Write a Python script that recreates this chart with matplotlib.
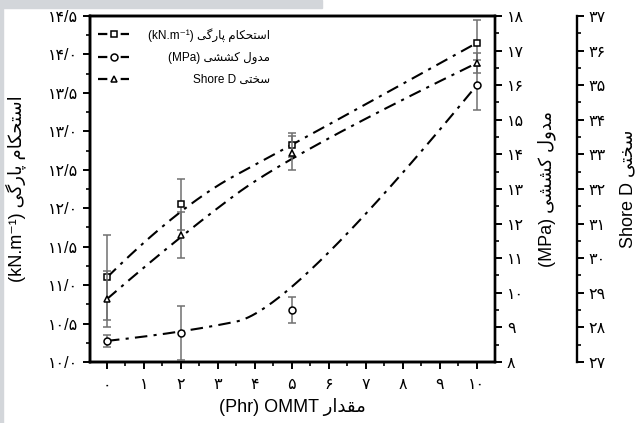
import numpy as np
import matplotlib
matplotlib.use("Agg")
import matplotlib.pyplot as plt
from matplotlib.patches import Rectangle
from matplotlib.lines import Line2D
from matplotlib.ticker import MultipleLocator, FuncFormatter

plt.rcParams['font.family'] = ['Liberation Sans', 'DejaVu Sans']

# === DATA ===
ommt = [0, 2, 5, 10]
tear = [11.10, 12.05, 12.82, 14.15]
tear_err = [0.55, 0.33, 0.16, 0.30]
modulus = [8.61, 8.84, 9.50, 16.0]
modulus_err = [0.17, 0.78, 0.38, 0.72]
hardness = [28.82, 30.67, 33.04, 35.64]
hardness_err = [0.82, 0.66, 0.49, 0.30]

label_tear = "استحکام پارگی"
label_modulus = "مدول کششی"
label_hardness = "سختی"
label_x = "مقدار"

# Arabic presentation forms: (isolated, final, initial, medial)
FORMS = {
    'ا': ('\uFE8D', '\uFE8E'),
    'د': ('\uFEA9', '\uFEAA'),
    'ر': ('\uFEAD', '\uFEAE'),
    'و': ('\uFEED', '\uFEEE'),
    'س': ('\uFEB1', '\uFEB2', '\uFEB3', '\uFEB4'),
    'ش': ('\uFEB5', '\uFEB6', '\uFEB7', '\uFEB8'),
    'ت': ('\uFE95', '\uFE96', '\uFE97', '\uFE98'),
    'ح': ('\uFEA1', '\uFEA2', '\uFEA3', '\uFEA4'),
    'خ': ('\uFEA5', '\uFEA6', '\uFEA7', '\uFEA8'),
    'ک': ('\uFB8E', '\uFB8F', '\uFB90', '\uFB91'),
    'م': ('\uFEE1', '\uFEE2', '\uFEE3', '\uFEE4'),
    'پ': ('\uFB56', '\uFB57', '\uFB58', '\uFB59'),
    'گ': ('\uFB92', '\uFB93', '\uFB94', '\uFB95'),
    'ی': ('\uFBFC', '\uFBFD', '\uFBFE', '\uFBFF'),
    'ل': ('\uFEDD', '\uFEDE', '\uFEDF', '\uFEE0'),
    'ق': ('\uFED5', '\uFED6', '\uFED7', '\uFED8'),
}


def rtl(s):
    # shape letters by context, then reverse to visual order
    out = []
    for i, ch in enumerate(s):
        if ch not in FORMS:
            out.append(ch)
            continue
        prev = s[i - 1] if i > 0 else ''
        nxt = s[i + 1] if i + 1 < len(s) else ''
        jp = prev in FORMS and len(FORMS[prev]) == 4
        jn = len(FORMS[ch]) == 4 and nxt in FORMS
        f = FORMS[ch]
        if jp and jn:
            out.append(f[3])
        elif jp:
            out.append(f[1])
        elif jn:
            out.append(f[2])
        else:
            out.append(f[0])
    return ''.join(out)[::-1]


FA = str.maketrans('0123456789.', '۰۱۲۳۴۵۶۷۸۹/')


def fa_fmt(fmt):
    return FuncFormatter(lambda v, pos: (fmt % v).translate(FA))


def bspline(xs, ys, k=2, n=300):
    # clamped B-spline with the data points as control points (origin style)
    P = np.column_stack([xs, ys]).astype(float)
    m = len(P)
    knots = np.concatenate([[0] * k, np.linspace(0, 1, m - k + 1), [1] * k])
    t = np.linspace(0, 1 - 1e-9, n)

    def N(i, d):
        if d == 0:
            return ((knots[i] <= t) & (t < knots[i + 1])).astype(float)
        a = 0 if knots[i + d] == knots[i] else (t - knots[i]) / (knots[i + d] - knots[i])
        b = 0 if knots[i + d + 1] == knots[i + 1] else (knots[i + d + 1] - t) / (knots[i + d + 1] - knots[i + 1])
        return a * N(i, d - 1) + b * N(i + 1, d - 1)

    B = np.column_stack([N(i, k) for i in range(m)])
    C = B @ P
    return C[:, 0], C[:, 1]


fig = plt.figure(figsize=(6.39, 4.23), dpi=100)
fig.patches.append(Rectangle((0, 0), 0.005, 1, transform=fig.transFigure,
                             color='#d3d6da', zorder=0))
fig.patches.append(Rectangle((0, 0.981), 0.504, 0.019, transform=fig.transFigure,
                             color='#d3d6da', zorder=0))
ax = fig.add_axes([0.1408, 0.1442, 0.6338, 0.818])
ax2 = ax.twinx()
ax3 = ax.twinx()
ax3.spines['right'].set_position(('outward', 59))

ls = (0, (6, 3, 1.5, 3))
mk = dict(mfc='white', mec='black', mew=1.1, ms=5, ls='none', zorder=5)
eb = dict(fmt='none', ecolor='#707070', elinewidth=1.1, capsize=3, capthick=1.1, zorder=3)

ax.errorbar(ommt, tear, yerr=tear_err, **eb)
ax.plot(*bspline(ommt, tear), color='black', lw=1.5, ls=ls)
ax.plot(ommt, tear, marker='s', **mk)

ax2.errorbar(ommt, modulus, yerr=modulus_err, **eb)
ax2.plot(*bspline(ommt, modulus), color='black', lw=1.5, ls=ls)
ax2.plot(ommt, modulus, marker='o', **mk)

ax3.errorbar(ommt, hardness, yerr=hardness_err, **eb)
ax3.plot(*bspline(ommt, hardness), color='black', lw=1.5, ls=ls)
ax3.plot(ommt, hardness, marker='^', **mk)

ax.set_xlim(-0.46, 10.49)
ax.set_ylim(10.0, 14.5)
ax2.set_ylim(8, 18)
ax3.set_ylim(27, 37)

ax.xaxis.set_major_locator(MultipleLocator(1))
ax.xaxis.set_minor_locator(MultipleLocator(0.5))
ax.yaxis.set_major_locator(MultipleLocator(0.5))
ax.yaxis.set_minor_locator(MultipleLocator(0.25))
for a in (ax2, ax3):
    a.yaxis.set_major_locator(MultipleLocator(1))
    a.yaxis.set_minor_locator(MultipleLocator(0.5))
    a.yaxis.set_major_formatter(fa_fmt('%d'))
ax.xaxis.set_major_formatter(fa_fmt('%d'))
ax.yaxis.set_major_formatter(fa_fmt('%.1f'))

for a in (ax, ax2, ax3):
    for sp in a.spines.values():
        sp.set_linewidth(1.7)
    a.tick_params(which='major', direction='out', length=5, width=1.4, labelsize=11.5)
    a.tick_params(which='minor', direction='out', length=3, width=1.2)
ax.tick_params(axis='x', pad=6)

ax.set_xlabel("(Phr) OMMT " + rtl(label_x), fontsize=13, labelpad=4)
ax.set_ylabel("(kN.m⁻¹) " + rtl(label_tear), fontsize=13, labelpad=16)
ax2.set_ylabel("(MPa) " + rtl(label_modulus), fontsize=13, labelpad=10)
ax3.set_ylabel("Shore D " + rtl(label_hardness), fontsize=13, labelpad=10)

# legend keys drawn as "-□-" like the original
key = dict(color='black', lw=1.6, ls=(0, (4.2, 6.0)), mfc='white', mec='black',
           mew=1.1, ms=5)
handles = [Line2D([], [], marker=m, **key) for m in ('s', 'o', '^')]
leg = ax3.legend(handles,
                 ["(kN.m⁻¹) " + rtl(label_tear),
                  "(MPa) " + rtl(label_modulus),
                  "Shore D " + rtl(label_hardness)],
                 loc='upper left', bbox_to_anchor=(0, 0.99), frameon=False,
                 fontsize=8.5, handlelength=2.6, labelspacing=0.85,
                 borderaxespad=0.3)
# right-align labels while keeping the handles in one column
for col in leg._legend_handle_box.get_children():
    for row in col.get_children():
        row.mode = 'expand'
        row.width = 172

fig.savefig("out.png", dpi=100)
